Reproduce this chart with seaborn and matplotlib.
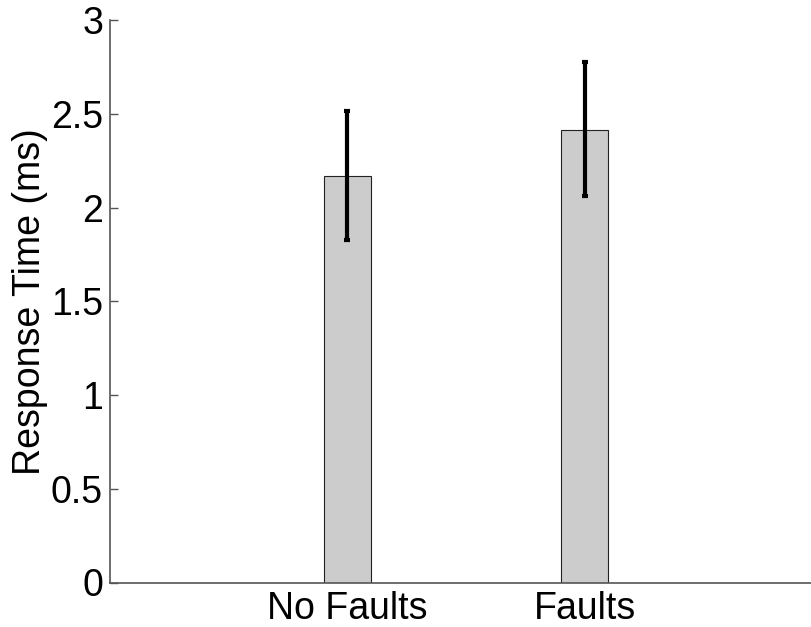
import numpy as np
import pandas as pd
import matplotlib
matplotlib.use("Agg")
import matplotlib.pyplot as plt
import seaborn as sns

# data
conditions = ["No Faults", "Faults"]
mean_rt = [2.17, 2.415]
err_low = [1.825, 2.06]
err_high = [2.515, 2.775]

sns.set_style("white")
plt.rcParams['font.family'] = ['Liberation Sans', 'DejaVu Sans']
plt.rcParams['text.color'] = 'black'
plt.rcParams['axes.labelcolor'] = 'black'
plt.rcParams['xtick.color'] = 'black'
plt.rcParams['ytick.color'] = 'black'

df = pd.DataFrame({"condition": conditions, "rt": mean_rt})

fig = plt.figure(figsize=(8.11, 6.27), dpi=100)
ax = fig.add_axes([110 / 811, 1 - 582.5 / 627, 712 / 811, (582.5 - 20) / 627])

sns.barplot(data=df, x="condition", y="rt", color=(0.8, 0.8, 0.8), saturation=1,
            width=0.2, edgecolor="#222222", linewidth=0.8, errorbar=None, ax=ax)

lo = np.array(mean_rt) - np.array(err_low)
hi = np.array(err_high) - np.array(mean_rt)
ax.errorbar(np.arange(len(conditions)), mean_rt, yerr=[lo, hi], fmt="none",
            ecolor="black", elinewidth=3, capsize=2.3, capthick=3, zorder=5)

ax.set_xlim(-1, 2)
ax.set_ylim(0, 3)
ax.set_yticks([0, 0.5, 1, 1.5, 2, 2.5, 3])
ax.set_yticklabels(["0", "0.5", "1", "1.5", "2", "2.5", "3"])
ax.set_xlabel("")
ax.set_ylabel("Response Time (ms)", fontsize=27, labelpad=2)
ax.tick_params(axis="y", left=True, direction="in", length=6, width=1,
               color="#555555", labelcolor="black", labelsize=27, pad=5)
ax.tick_params(axis="x", bottom=False, length=0, labelcolor="black",
               labelsize=27, pad=6)

sns.despine(ax=ax, top=True, right=True)
for s in ["left", "bottom"]:
    ax.spines[s].set_color("#555555")
    ax.spines[s].set_linewidth(1.2)

fig.savefig("out.png", dpi=100)
